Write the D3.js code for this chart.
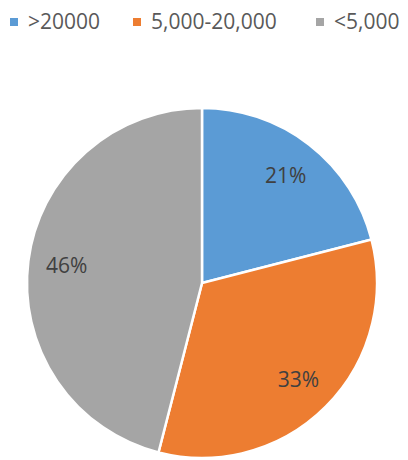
<!DOCTYPE html>
<html lang="en">
<head>
<meta charset="UTF-8">
<title>Pie</title>
<style>
  body { margin: 0; background: #fff; }
  svg { display: block; font-family: 'Open Sans', sans-serif; }
</style>
</head>
<body>
<svg id="chart" width="408" height="460"></svg>
<script src="https://d3js.org/d3.v7.min.js"></script>
<script>
// data
const categories = [">20000", "5,000-20,000", "<5,000"];
const shares = [21, 33, 46];
const colors = ["#5B9BD5", "#ED7D31", "#A5A5A5"];

const svg = d3.select("#chart");
const cx = 202, cy = 283, R = 175;

const color = d3.scaleOrdinal(categories, colors);
const pie = d3.pie().sort(null).value(d => d.v);
const arcs = pie(categories.map((c, i) => ({c, v: shares[i]})));
const arc = d3.arc().innerRadius(0).outerRadius(R);
const labelArc = d3.arc().innerRadius(R * 0.78).outerRadius(R * 0.78);

const g = svg.append("g").attr("transform", `translate(${cx},${cy})`);
g.selectAll("path")
  .data(arcs)
  .join("path")
    .attr("d", arc)
    .attr("fill", d => color(d.data.c))
    .attr("stroke", "#fff")
    .attr("stroke-width", 2.5);

g.selectAll("text")
  .data(arcs)
  .join("text")
    .attr("transform", d => `translate(${labelArc.centroid(d)})`)
    .attr("text-anchor", "middle")
    .attr("dy", "0.35em")
    .attr("font-size", 21)
    .attr("fill", "#404040")
    .text(d => d.data.v + "%");

// legend
const legendX = [10, 133, 316];
const lg = svg.append("g").selectAll("g")
  .data(categories)
  .join("g")
    .attr("transform", (d, i) => `translate(${legendX[i]},0)`);
lg.append("rect")
  .attr("x", 0).attr("y", 18).attr("width", 8).attr("height", 8)
  .attr("fill", d => color(d));
lg.append("text")
  .attr("x", 18).attr("y", 29)
  .attr("font-size", 21)
  .attr("fill", "#595959")
  .text(d => d);
</script>
</body>
</html>
